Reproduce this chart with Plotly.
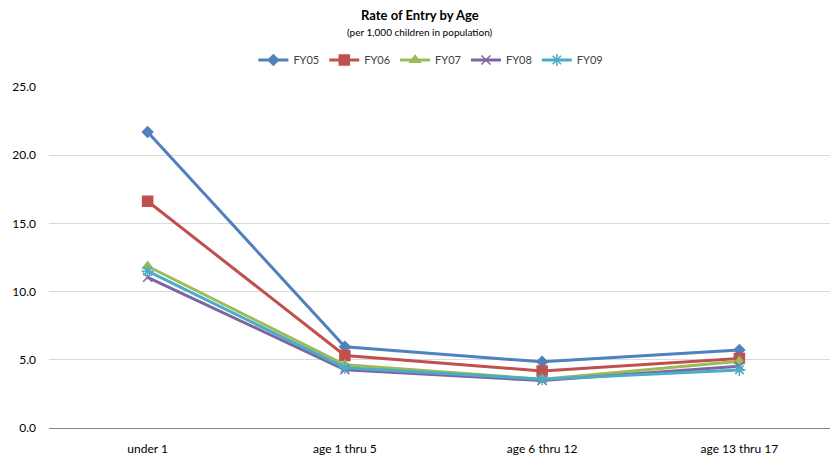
import plotly.graph_objects as go

categories = ["under 1", "age 1 thru 5", "age 6 thru 12", "age 13 thru 17"]
series_names = ["FY05", "FY06", "FY07", "FY08", "FY09"]
fy05 = [21.7, 5.95, 4.85, 5.72]
fy06 = [16.62, 5.32, 4.18, 5.1]
fy07 = [11.86, 4.63, 3.58, 4.9]
fy08 = [11.05, 4.27, 3.48, 4.52]
fy09 = [11.5, 4.42, 3.58, 4.26]
y_ticks = [0, 5, 10, 15, 20, 25]
y_tick_labels = ["0.0", "5.0", "10.0", "15.0", "20.0", "25.0"]

colors = ["#4F81BD", "#C0504D", "#9BBB59", "#8064A2", "#4BACC6"]
symbols = ["diamond", "square", "triangle-up", "x-thin-open", "asterisk-open"]
sizes = [8, 10, 9, 9, 10]
values = [fy05, fy06, fy07, fy08, fy09]

FONT = "Lato, Open Sans, sans-serif"

fig = go.Figure()
for name, vals, c, s, sz in zip(series_names, values, colors, symbols, sizes):
    fig.add_trace(go.Scatter(
        x=categories, y=vals, name=name, mode="lines+markers",
        line=dict(color=c, width=3),
        marker=dict(symbol=s, size=sz, color=c, line=dict(color=c, width=1.5)),
    ))

fig.update_layout(
    width=830, height=451,
    margin=dict(l=41, r=0, t=79, b=31, autoexpand=False),
    paper_bgcolor="white", plot_bgcolor="white",
    font=dict(family=FONT, size=12, color="#404040"),
    showlegend=True,
    legend=dict(
        orientation="h", x=0.484, xanchor="center", y=1.079, yanchor="middle",
        font=dict(family=FONT, size=11, color="#404040"),
        tracegroupgap=0,
    ),
    annotations=[
        dict(text="<b>Rate of Entry by Age</b>", xref="paper", yref="paper",
             x=0.47, y=1.21, xanchor="center", yanchor="middle", showarrow=False,
             font=dict(family=FONT, size=13, color="#000000")),
        dict(text="(per 1,000 children in population)", xref="paper", yref="paper",
             x=0.47, y=1.162, xanchor="center", yanchor="middle", showarrow=False,
             font=dict(family=FONT, size=10, color="#000000")),
    ],
    xaxis=dict(
        type="category", range=[-0.5, 3.5],
        showgrid=False, showline=True, linecolor="#868686", linewidth=1,
        ticks="", ticklabelstandoff=10,
        tickfont=dict(family=FONT, size=12, color="#000000"),
    ),
    yaxis=dict(
        range=[0, 25], tickvals=y_ticks, ticktext=y_tick_labels,
        showgrid=True, gridcolor="#D9D9D9", gridwidth=1,
        zeroline=False, showline=False, ticks="", ticklabelstandoff=12,
        tickfont=dict(family=FONT, size=12, color="#000000"),
    ),
)

fig.write_html("out.html")
